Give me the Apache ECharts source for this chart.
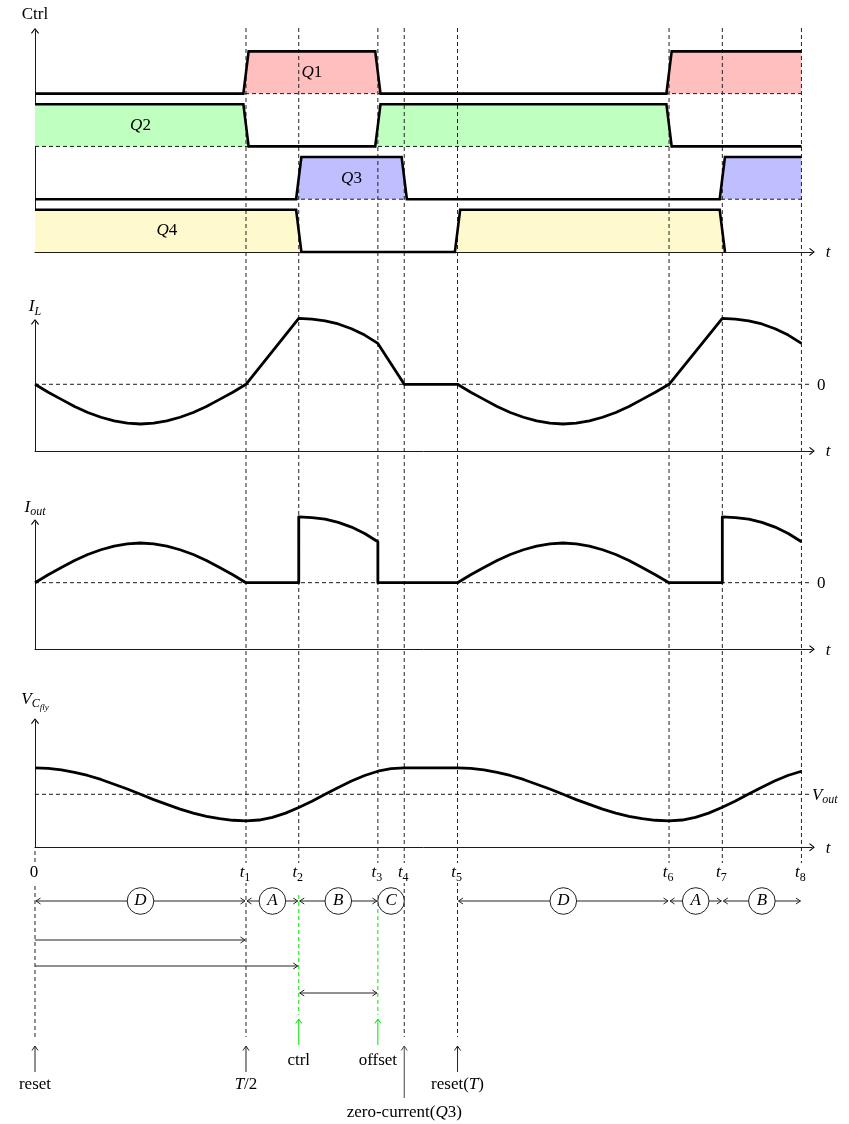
<!DOCTYPE html>
<html>
<head>
<meta charset="utf-8">
<script src="https://cdn.jsdelivr.net/npm/echarts@6.0.0/dist/echarts.min.js"></script>
<style>
html,body{margin:0;padding:0;background:#ffffff;}
#chart{width:849px;height:1124px;}
</style>
</head>
<body>
<div id="chart"></div>
<script>
// ================= DATA =================
const eventNames = ['0', 't_1', 't_2', 't_3', 't_4', 't_5', 't_6', 't_7', 't_8'];
const eventTimes = [0, 4, 5, 6.5, 7, 8.01, 12.02, 13.03, 14.53];

const phaseLetters = ['D', 'A', 'B', 'C', 'D', 'A', 'B'];
const phaseFrom = [0, 1, 2, 3, 5, 6, 7];
const phaseTo   = [1, 2, 3, 4, 6, 7, 8];

const spanFrom = [0, 0, 2];
const spanTo   = [1, 2, 3];
const spanBothHeads = [false, false, true];

const triggerNames  = ['reset', 'T/2', 'ctrl', 'offset', 'zero-current(Q3)', 'reset(T)'];
const triggerEvents = [0, 1, 2, 3, 4, 5];

const axisNames = ['Ctrl', 'I_L', 'I_out', 'V_C_fly'];
const refNames  = [null, '0', '0', 'V_out'];

const ctrlNames = ['Q1', 'Q2', 'Q3', 'Q4'];
// [time, state 0/1]
const Q1 = [[0,0],[3.95,0],[4.05,1],[6.45,1],[6.55,0],[11.97,0],[12.07,1],[14.53,1]];
const Q2 = [[0,1],[3.95,1],[4.05,0],[6.45,0],[6.55,1],[11.97,1],[12.07,0],[14.53,0]];
const Q3 = [[0,0],[4.95,0],[5.05,1],[6.95,1],[7.05,0],[12.98,0],[13.08,1],[14.53,1]];
const Q4 = [[0,1],[4.95,1],[5.05,0],[7.96,0],[8.06,1],[12.98,1],[13.08,0]];

const IL = [
  [0,0],[0.25,-0.2],[0.5,-0.38],[0.75,-0.56],[1,-0.71],[1.25,-0.83],[1.5,-0.92],[1.75,-0.98],[2,-1],
  [2.25,-0.98],[2.5,-0.92],[2.75,-0.83],[3,-0.71],[3.25,-0.56],[3.5,-0.38],[3.75,-0.2],[4,0],
  [5,1.66],[5.25,1.64],[5.5,1.6],[5.75,1.52],[6,1.4],[6.25,1.24],[6.5,1.03],[7,0],[8.01,0],
  [8.26,-0.2],[8.51,-0.38],[8.76,-0.56],[9.01,-0.71],[9.26,-0.83],[9.51,-0.92],[9.76,-0.98],[10.01,-1],
  [10.26,-0.98],[10.51,-0.92],[10.76,-0.83],[11.01,-0.71],[11.26,-0.56],[11.51,-0.38],[11.76,-0.2],[12.02,0],
  [13.03,1.66],[13.28,1.64],[13.53,1.6],[13.78,1.52],[14.03,1.4],[14.28,1.24],[14.53,1.03]
];
const Iout = [
  [0,0],[0.25,0.2],[0.5,0.38],[0.75,0.56],[1,0.71],[1.25,0.83],[1.5,0.92],[1.75,0.98],[2,1],
  [2.25,0.98],[2.5,0.92],[2.75,0.83],[3,0.71],[3.25,0.56],[3.5,0.38],[3.75,0.2],[4,0],
  [5,0],[5,1.66],[5.25,1.64],[5.5,1.6],[5.75,1.52],[6,1.4],[6.25,1.24],[6.5,1.03],[6.5,0],[8.01,0],
  [8.26,0.2],[8.51,0.38],[8.76,0.56],[9.01,0.71],[9.26,0.83],[9.51,0.92],[9.76,0.98],[10.01,1],
  [10.26,0.98],[10.51,0.92],[10.76,0.83],[11.01,0.71],[11.26,0.56],[11.51,0.38],[11.76,0.2],[12.02,0],
  [13.03,0],[13.03,1.66],[13.28,1.64],[13.53,1.6],[13.78,1.52],[14.03,1.4],[14.28,1.24],[14.53,1.03]
];
const Vcfly = [
  [0,1],[0.25,0.98],[0.5,0.92],[0.75,0.83],[1,0.71],[1.25,0.56],[1.5,0.38],[1.75,0.2],[2,0],
  [2.25,-0.2],[2.5,-0.38],[2.75,-0.56],[3,-0.71],[3.25,-0.83],[3.5,-0.92],[3.75,-0.98],[4,-1],
  [4.25,-0.97],[4.5,-0.87],[4.75,-0.71],[5,-0.5],[5.25,-0.26],[5.5,0],[5.75,0.26],[6,0.5],
  [6.25,0.71],[6.5,0.87],[6.75,0.97],[7,1],[8.01,1],
  [8.26,0.98],[8.51,0.92],[8.76,0.83],[9.01,0.71],[9.26,0.56],[9.51,0.38],[9.76,0.2],[10.01,0],
  [10.26,-0.2],[10.51,-0.38],[10.76,-0.56],[11.01,-0.71],[11.26,-0.83],[11.51,-0.92],[11.76,-0.98],[12.02,-1],
  [12.27,-0.97],[12.52,-0.87],[12.77,-0.71],[13.02,-0.5],[13.27,-0.26],[13.52,0],[13.77,0.26],
  [14.02,0.5],[14.27,0.71],[14.53,0.87]
];

// ================= LAYOUT / STYLE =================
const FONT = '"Liberation Serif", "DejaVu Serif", serif';
const X_MAX = 14.73, DASH_END = 14.69;
const GRID_LEFT = 35, GRID_W = 777;
const panels = [
  {top: 30.8,  height: 221.2, min: 0,      max: 4.19},
  {top: 321.8, height: 129.2, min: -1.68,  max: 1.574},
  {top: 522.1, height: 127.2, min: -1.678, max: 1.526},
  {top: 721.1, height: 126.2, min: -2,     max: 2.762}
];
const rowBase = [3, 2, 1, 0], rowH = 0.8;
const qFill = ['#ffbfbf', '#bfffbf', '#bfbfff', '#fffacd'];
const LY = {
  vTop: 28, v0Top: 851,
  vBottom: [1037, 1037, 868, 868, 1037, 1037, 868, 868, 868],
  greenEvents: [2, 3], greenTop: 895, greenBottom: 1015,
  tickY: 873, phaseY: 901, spanY: [940, 966, 993], circleR: 13.3,
  trigFrom:   [1072, 1072, 1045, 1045, 1098, 1072],
  trigTo:     [1046, 1046, 1019, 1019, 1046, 1046],
  trigLabelY: [1085, 1085, 1061, 1061, 1113, 1085],
  trigColor:  ['#222', '#222', '#00e600', '#00e600', '#444', '#222']
};
const GREEN = '#00e600';

// ================= helpers =================
const mctx = document.createElement('canvas').getContext('2d');
function fontOf(r) { return (r.it ? 'italic ' : '') + (r.fs || 17) + 'px ' + FONT; }
function tw(r) { mctx.font = fontOf(r); return mctx.measureText(r.s).width; }
function mathRuns(str) {
  const parts = str.split('_');
  const sizes = [17, 12, 9], dys = [0, 5, 9];
  return parts.map((p, i) => ({s: p, it: /[A-Za-z]/.test(p), fs: sizes[i], dy: dys[i]}));
}
function textRuns(str) {
  const runs = [];
  for (const ch of str) {
    const it = /[A-Z]/.test(ch);
    if (runs.length && runs[runs.length - 1].it === it) runs[runs.length - 1].s += ch;
    else runs.push({s: ch, it: it, fs: 17, dy: 0});
  }
  return runs;
}
function runsEl(x, y, runs, align, bg) {
  const widths = runs.map(tw);
  const total = widths.reduce((a, b) => a + b, 0);
  let sx = align === 'center' ? x - total / 2 : (align === 'right' ? x - total : x);
  const children = [];
  if (bg) children.push({type: 'rect', shape: {x: sx - 1.5, y: y - 10, width: total + 3, height: 20}, style: {fill: '#fff'}});
  runs.forEach((r, i) => {
    children.push({type: 'text', x: sx, y: y + (r.dy || 0),
      style: {text: r.s, font: fontOf(r), fill: '#000', align: 'left', verticalAlign: 'middle'}});
    sx += widths[i];
  });
  return {type: 'group', children: children};
}
function chev(x, y, dx, dy, color) {
  const Lh = 4.5, W = 3, px = -dy, py = dx;
  return {type: 'polyline', shape: {points: [[x - dx * Lh + px * W, y - dy * Lh + py * W], [x, y], [x - dx * Lh - px * W, y - dy * Lh - py * W]]},
    style: {stroke: color, lineWidth: 1, fill: null}};
}
function labelSeries(gi, items, z) {
  return {
    type: 'custom', xAxisIndex: gi, yAxisIndex: gi, z: z || 8, silent: true, clip: false,
    data: items.map((it, i) => [it.x, it.y, i]),
    renderItem: function (params, api) {
      const it = items[api.value(2)];
      const p = api.coord([it.x, it.y]);
      return runsEl(p[0] + (it.dx || 0), p[1] + (it.dy || 0), it.runs, it.align || 'center', it.bg);
    }
  };
}
const chevPath = 'path://M0,5 L4,0 L8,5 L7.2,5.7 L4,1.7 L0.8,5.7 Z';
function axisLineCfg() {
  return {show: true, onZero: false, symbol: ['none', chevPath], symbolSize: [8, 5.7], lineStyle: {color: '#000', width: 0.9}};
}

// ================= grids & axes =================
const grids = panels.map(p => ({left: GRID_LEFT, width: GRID_W, top: p.top, height: p.height}));
grids.push({left: GRID_LEFT, width: GRID_W, top: 0, height: 1124});
const xAxes = panels.map((p, i) => ({gridIndex: i, type: 'value', min: 0, max: X_MAX,
  axisLine: axisLineCfg(), axisTick: {show: false}, axisLabel: {show: false}, splitLine: {show: false}}));
xAxes.push({gridIndex: 4, type: 'value', min: 0, max: X_MAX, show: false});
const yAxes = panels.map((p, i) => ({gridIndex: i, type: 'value', min: p.min, max: p.max,
  axisLine: axisLineCfg(), axisTick: {show: false}, axisLabel: {show: false}, splitLine: {show: false}}));
yAxes.push({gridIndex: 4, type: 'value', min: 0, max: 1124, inverse: true, show: false});

// ================= series =================
const series = [];
const Qs = [Q1, Q2, Q3, Q4];
Qs.forEach((q, i) => {
  const pts = q.map(([t, s]) => [t, rowBase[i] + s * rowH]);
  series.push({type: 'line', xAxisIndex: 0, yAxisIndex: 0, data: pts, symbol: 'none', silent: true, z: 1, clip: false,
    lineStyle: {opacity: 0, width: 0}, areaStyle: {color: qFill[i], opacity: 1, origin: rowBase[i]}});
  if (rowBase[i] > 0) {
    series.push({type: 'line', xAxisIndex: 0, yAxisIndex: 0, data: [[0, rowBase[i]], [eventTimes[8], rowBase[i]]],
      symbol: 'none', silent: true, z: 2, clip: false, lineStyle: {color: '#000', width: 0.9, type: [4, 3]}});
  }
  series.push({type: 'line', xAxisIndex: 0, yAxisIndex: 0, data: pts, symbol: 'none', silent: true, z: 5, clip: false,
    lineStyle: {color: '#000', width: 2.6, join: 'miter'}});
});
[IL, Iout, Vcfly].forEach((d, k) => {
  const gi = k + 1;
  series.push({type: 'line', xAxisIndex: gi, yAxisIndex: gi, data: [[0, 0], [DASH_END, 0]], symbol: 'none', silent: true, z: 2, clip: false,
    lineStyle: {color: '#000', width: 0.9, type: [4, 3]}});
  series.push({type: 'line', xAxisIndex: gi, yAxisIndex: gi, data: d, symbol: 'none', silent: true, z: 5, clip: false,
    lineStyle: {color: '#000', width: 2.8, join: 'round'}});
});

// Q labels at centre of first high pulse
const qLabelItems = Qs.map((q, i) => {
  let rise = null, fall = null;
  for (let k = 0; k < q.length; k++) {
    if (rise === null && q[k][1] === 1) rise = k === 0 ? q[0][0] : (q[k - 1][0] + q[k][0]) / 2;
    else if (rise !== null && q[k][1] === 0) { fall = (q[k - 1][0] + q[k][0]) / 2; break; }
  }
  return {x: (rise + fall) / 2, y: rowBase[i] + rowH / 2, runs: textRuns(ctrlNames[i])};
});
series.push(labelSeries(0, qLabelItems, 6));

// axis names, "t" labels, reference labels
const nameDy = [-15.8, -14.8, -15, -22];
panels.forEach((p, i) => {
  const items = [
    {x: 0, y: p.max, dy: nameDy[i], runs: axisNames[i].indexOf('_') >= 0 ? mathRuns(axisNames[i]) : [{s: axisNames[i], fs: 17}]},
    {x: X_MAX, y: p.min, dx: 16, dy: 1, runs: [{s: 't', it: true, fs: 17}]}
  ];
  if (refNames[i]) items.push({x: DASH_END, y: 0, dx: refNames[i] === '0' ? 7 : 2, dy: 1, align: 'left', runs: mathRuns(refNames[i])});
  series.push(labelSeries(i, items, 6));
});

// vertical event lines (overlay grid)
series.push({
  type: 'custom', xAxisIndex: 4, yAxisIndex: 4, z: 3, silent: true, clip: false,
  data: eventTimes.map((t, i) => [t, 0, i]),
  renderItem: function (params, api) {
    const i = api.value(2), t = eventTimes[i];
    const top = api.coord([t, i === 0 ? LY.v0Top : LY.vTop]);
    const bot = api.coord([t, LY.vBottom[i]]);
    const ch = [{type: 'line', shape: {x1: top[0], y1: top[1], x2: bot[0], y2: bot[1]},
      style: {stroke: '#222', lineWidth: 1, lineDash: [4, 3]}}];
    if (LY.greenEvents.indexOf(i) >= 0) {
      const g1 = api.coord([t, LY.greenTop]), g2 = api.coord([t, LY.greenBottom]);
      ch.push({type: 'line', shape: {x1: g1[0], y1: g1[1], x2: g2[0], y2: g2[1]},
        style: {stroke: GREEN, lineWidth: 1, lineDash: [4, 3]}});
    }
    return {type: 'group', children: ch};
  }
});

// phase arrows with circled letters
series.push({
  type: 'custom', xAxisIndex: 4, yAxisIndex: 4, z: 7, silent: true, clip: false,
  data: phaseLetters.map((l, i) => [eventTimes[phaseFrom[i]], LY.phaseY, i]),
  renderItem: function (params, api) {
    const i = api.value(2);
    const a = api.coord([eventTimes[phaseFrom[i]], LY.phaseY]);
    const b = api.coord([eventTimes[phaseTo[i]], LY.phaseY]);
    const x1 = a[0] + 1, x2 = b[0] - 1, y = a[1];
    const mid = (a[0] + b[0]) / 2;
    const ch = [
      {type: 'line', shape: {x1: x1, y1: y, x2: x2, y2: y}, style: {stroke: '#222', lineWidth: 1}},
      chev(x1, y, -1, 0, '#222'), chev(x2, y, 1, 0, '#222'),
      {type: 'circle', shape: {cx: mid, cy: y, r: LY.circleR}, style: {fill: '#fff', stroke: '#222', lineWidth: 1}}
    ];
    ch.push(runsEl(mid, y, [{s: phaseLetters[i], it: true, fs: 17}], 'center', false));
    return {type: 'group', children: ch};
  }
});

// span arrows
series.push({
  type: 'custom', xAxisIndex: 4, yAxisIndex: 4, z: 7, silent: true, clip: false,
  data: spanFrom.map((f, i) => [eventTimes[f], LY.spanY[i], i]),
  renderItem: function (params, api) {
    const i = api.value(2);
    const a = api.coord([eventTimes[spanFrom[i]], LY.spanY[i]]);
    const b = api.coord([eventTimes[spanTo[i]], LY.spanY[i]]);
    const x1 = a[0] + (spanBothHeads[i] ? 1 : 0), x2 = b[0] - 1, y = a[1];
    const ch = [{type: 'line', shape: {x1: x1, y1: y, x2: x2, y2: y}, style: {stroke: '#222', lineWidth: 1}},
      chev(x2, y, 1, 0, '#222')];
    if (spanBothHeads[i]) ch.push(chev(x1, y, -1, 0, '#222'));
    return {type: 'group', children: ch};
  }
});

// trigger arrows
series.push({
  type: 'custom', xAxisIndex: 4, yAxisIndex: 4, z: 7, silent: true, clip: false,
  data: triggerEvents.map((e, i) => [eventTimes[e], LY.trigFrom[i], i]),
  renderItem: function (params, api) {
    const i = api.value(2), t = eventTimes[triggerEvents[i]];
    const a = api.coord([t, LY.trigFrom[i]]), b = api.coord([t, LY.trigTo[i]]);
    const c = LY.trigColor[i];
    return {type: 'group', children: [
      {type: 'line', shape: {x1: a[0], y1: a[1], x2: b[0], y2: b[1]}, style: {stroke: c, lineWidth: 1}},
      chev(b[0], b[1], 0, -1, c)
    ]};
  }
});

// bottom labels: event ticks + trigger texts
const bottomItems = [];
eventNames.forEach((n, i) => bottomItems.push({x: eventTimes[i], y: LY.tickY, dx: -1, runs: mathRuns(n), bg: true}));
triggerNames.forEach((n, i) => bottomItems.push({x: eventTimes[triggerEvents[i]], y: LY.trigLabelY[i], runs: textRuns(n)}));
series.push(labelSeries(4, bottomItems, 9));

const chart = echarts.init(document.getElementById('chart'), null, {renderer: 'canvas', width: 849, height: 1124});
chart.setOption({
  animation: false,
  backgroundColor: '#ffffff',
  grid: grids,
  xAxis: xAxes,
  yAxis: yAxes,
  series: series
});
</script>
</body>
</html>
